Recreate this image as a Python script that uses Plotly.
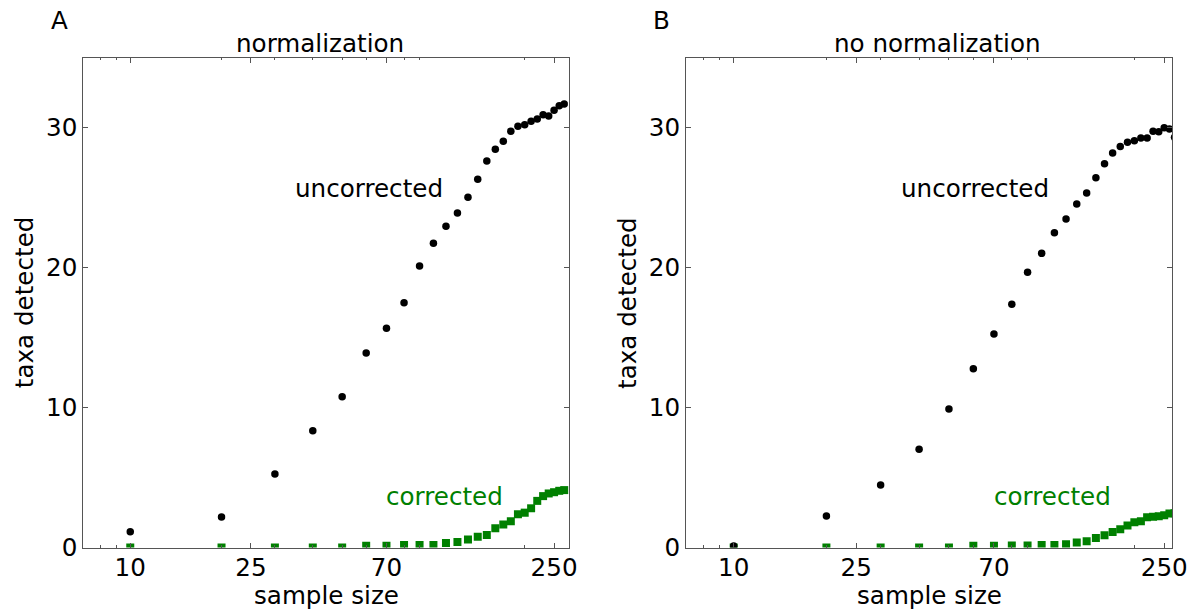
import math
import plotly.graph_objects as go

# sample sizes (number of reads sampled)
sample_size = [10, 20, 30, 40, 50, 60, 70, 80, 90, 100, 110, 120, 130, 140,
               150, 160, 170, 180, 190, 200, 210, 220, 230, 240, 250, 260, 270]

# panel A: normalization
norm_uncorrected = [1.13, 2.18, 5.25, 8.34, 10.77, 13.89, 15.66, 17.49, 20.11,
                    21.73, 22.94, 23.89, 25.01, 26.30, 27.61, 28.44, 29.01,
                    29.73, 30.09, 30.20, 30.44, 30.61, 30.91, 30.82, 31.23,
                    31.56, 31.68]
norm_corrected = [0.0, 0.0, 0.0, 0.0, 0.0, 0.13, 0.13, 0.18, 0.18, 0.18, 0.32,
                  0.39, 0.58, 0.77, 0.90, 1.37, 1.64, 1.88, 2.38, 2.49, 2.80,
                  3.33, 3.67, 3.86, 3.95, 4.05, 4.10]

# panel B: no normalization
raw_uncorrected = [0.10, 2.25, 4.46, 7.01, 9.89, 12.77, 15.25, 17.37, 19.66,
                   21.01, 22.49, 23.46, 24.54, 25.32, 26.41, 27.41, 28.18,
                   28.64, 28.94, 29.06, 29.25, 29.25, 29.73, 29.70, 29.99,
                   29.89, 29.30]
raw_corrected = [0.0, 0.0, 0.0, 0.0, 0.0, 0.13, 0.13, 0.15, 0.15, 0.18, 0.18,
                 0.23, 0.35, 0.44, 0.68, 0.87, 1.10, 1.30, 1.58, 1.80, 1.88,
                 2.16, 2.20, 2.23, 2.30, 2.42, 2.45]

x_tick_vals = [10, 25, 70, 250]
x_tick_text = ["10", "25", "70", "250"]
x_minor_vals = [8, 9, 20, 30, 40, 50, 60, 80, 90, 200]
y_tick_vals = [0, 10, 20, 30]
y_tick_text = ["0", "10", "20", "30"]

W, H = 1192, 611
FONT = "DejaVu Sans"
FS = 24.6
GREEN = "#008000"
SPINE = "#555555"
DESC = 0.236 * FS  # descent of the font below the baseline


def fx(px):
    return px / W


def fy(px):
    return 1 - px / H


panels = [
    dict(sx="", unc=norm_uncorrected, cor=norm_corrected,
         dom=(83.3, 569.0), xmax=280, title="normalization", title_x=320,
         letter="A", letter_x=60, ylab_x=24.7),
    dict(sx="2", unc=raw_uncorrected, cor=raw_corrected,
         dom=(686.0, 1172.0), xmax=265, title="no normalization", title_x=937,
         letter="B", letter_x=662, ylab_x=627.4),
]

fig = go.Figure()
annotations = []


def label(text, x, y, xref="paper", yref="paper", color="black",
          xanchor="center", yshift=0, angle=0, yanchor="bottom"):
    annotations.append(dict(
        text=text, x=x, y=y, xref=xref, yref=yref, showarrow=False,
        xanchor=xanchor, yanchor=yanchor, yshift=yshift, textangle=angle,
        borderpad=0, borderwidth=0,
        font=dict(family=FONT, size=FS, color=color)))


axis_common = dict(
    showline=True, linecolor=SPINE, linewidth=1, mirror="allticks",
    ticks="inside", ticklen=5, tickcolor=SPINE, tickwidth=1,
    showgrid=False, zeroline=False, automargin=False,
    tickfont=dict(family=FONT, size=FS, color="black"),
)

y_top, y_bot = 57.5, 547.5

for p in panels:
    sx = p["sx"]
    xa, ya = "x" + sx, "y" + sx
    # corrected counts (green squares) drawn first, uncorrected on top
    fig.add_trace(go.Scatter(
        x=sample_size, y=p["cor"], mode="markers", xaxis=xa, yaxis=ya,
        marker=dict(symbol="square", size=8, color=GREEN, line=dict(width=0)),
        showlegend=False, cliponaxis=True))
    fig.add_trace(go.Scatter(
        x=sample_size, y=p["unc"], mode="markers", xaxis=xa, yaxis=ya,
        marker=dict(symbol="circle", size=7.5, color="black",
                    line=dict(width=0)),
        showlegend=False, cliponaxis=True))

    d0, d1 = p["dom"]
    fig.update_layout(**{
        "xaxis" + sx: dict(
            axis_common, type="log", domain=[fx(d0), fx(d1)],
            range=[math.log10(7), math.log10(p["xmax"])],
            tickmode="array", tickvals=x_tick_vals, ticktext=x_tick_text,
            ticklabelstandoff=-2,
            minor=dict(tickmode="array", tickvals=x_minor_vals, ticks="inside",
                       ticklen=2.5, tickcolor=SPINE, tickwidth=1),
            anchor=ya),
        "yaxis" + sx: dict(
            axis_common, domain=[fy(y_bot), fy(y_top)], range=[0, 35],
            tickmode="array", tickvals=y_tick_vals, ticktext=y_tick_text,
            anchor=xa),
    })

    xc = (d0 + d1) / 2
    label(p["letter"], fx(p["letter_x"]), fy(29.3 + DESC))
    label(p["title"], fx(p["title_x"]), fy(52.3 + DESC))
    label("sample size", fx(xc), fy(604.3 + DESC))
    label("taxa detected", fx(p["ylab_x"]), fy((y_top + y_bot) / 2),
          angle=-90, yanchor="middle")
    label("uncorrected", math.log10(35), 25, xref=xa, yref=ya,
          xanchor="left", yshift=-DESC)
    label("corrected", math.log10(70), 3, xref=xa, yref=ya, color=GREEN,
          xanchor="left", yshift=-DESC)

fig.update_layout(
    width=W, height=H, margin=dict(l=0, r=0, t=0, b=0),
    paper_bgcolor="white", plot_bgcolor="white",
    font=dict(family=FONT, size=FS, color="black"),
    annotations=annotations, showlegend=False,
)

fig.write_html("out.html")
